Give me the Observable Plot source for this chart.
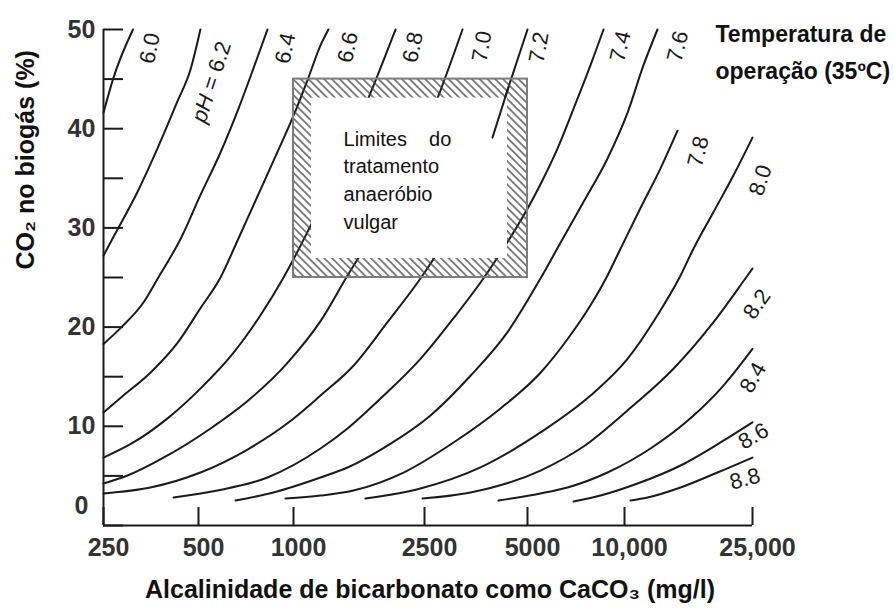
<!DOCTYPE html>
<html><head><meta charset="utf-8">
<script src="https://cdn.jsdelivr.net/npm/d3@7"></script>
<script src="https://cdn.jsdelivr.net/npm/@observablehq/plot@0.6"></script>
<style>html,body{margin:0;padding:0;background:#fff;} svg{display:block;}</style>
</head><body><div id="chart"></div>
<script>
// ---- axis ticks ----
const xTickValues = [250, 500, 1000, 2500, 5000, 10000, 25000];
const xTickLabels = ["250", "500", "1000", "2500", "5000", "10,000", "25,000"];
const yTickValues = [0, 5, 10, 15, 20, 25, 30, 35, 40, 45, 50];
const yLabelValues = [10, 20, 30, 40, 50];

// ---- pH curves: alkalinity (mg/l CaCO3) and CO2 (%) ----
const phLevels = ["6.0", "6.2", "6.4", "6.6", "6.8", "7.0", "7.2", "7.4", "7.6", "7.8", "8.0", "8.2", "8.4", "8.6", "8.8"];
const alk_6_0 = [250, 268, 310];
const co2_6_0 = [41.6, 45.0, 50];
const alk_6_2 = [250, 270, 320, 374, 428, 472, 507];
const co2_6_2 = [27.2, 29.2, 33.6, 38.3, 42.7, 46.0, 50];
const alk_6_4 = [250, 283, 335, 373, 439, 507, 587, 669, 747, 827];
const co2_6_4 = [18.3, 19.9, 22.5, 25.0, 28.9, 33.3, 37.6, 42.0, 46.1, 50];
const alk_6_6 = [250, 289, 352, 429, 507, 587, 660, 747, 871, 1014, 1103, 1208, 1277];
const co2_6_6 = [11.4, 13.1, 15.4, 18.4, 21.9, 25.0, 28.5, 32.3, 37.0, 41.8, 44.9, 48.4, 50];
const alk_6_8 = [250, 311, 399, 507, 645, 786, 930, 1103, 1208, 1714, 2042];
const co2_6_8 = [6.85, 8.37, 10.8, 13.8, 17.4, 21.2, 25.0, 29.6, 32.3, 43.6, 50];
const alk_7_0 = [250, 298, 399, 546, 731, 957, 1208, 1459, 1631, 2738, 3229];
const co2_7_0 = [4.23, 5.04, 7.06, 9.78, 12.8, 16.4, 20.6, 25.2, 27.8, 43.2, 50];
const alk_7_2 = [250, 352, 507, 715, 957, 1208, 1521, 1930, 2466, 2728, 3950, 4400, 5000];
const co2_7_2 = [3.23, 3.83, 5.34, 7.66, 10.3, 13.1, 16.1, 20.5, 25.2, 27.5, 39.1, 44.2, 50];
const alk_7_4 = [417, 574, 827, 1208, 1459, 1838, 2431, 3040, 3768, 5487, 6195, 6946, 7844, 8608];
const co2_7_4 = [2.82, 3.53, 4.84, 7.76, 9.78, 12.8, 16.8, 20.9, 25.2, 34.4, 38.0, 42.0, 46.4, 50];
const alk_7_6 = [655, 864, 1208, 1459, 1930, 2603, 3407, 4371, 5487, 6328, 7459, 8857, 10217, 11458, 12663];
const co2_7_6 = [2.52, 3.33, 4.84, 5.85, 8.06, 11.1, 15.1, 19.5, 24.9, 28.5, 32.6, 37.0, 41.6, 46.4, 50];
const alk_7_8 = [943, 1208, 1521, 2159, 3040, 4170, 5487, 6799, 7844, 8792, 9718, 11214, 12941, 14618];
const co2_7_8 = [2.72, 3.02, 3.53, 5.34, 8.37, 11.8, 15.4, 19.2, 22.2, 25.0, 27.9, 32.0, 36.0, 39.8];
const alk_8_0 = [1654, 2431, 3644, 5487, 7844, 10217, 12663, 14826, 16383, 18912, 21822, 25000];
const co2_8_0 = [2.72, 3.73, 5.85, 9.38, 13.1, 16.8, 21.2, 25.0, 27.9, 31.6, 35.3, 39.1];
const alk_8_2 = [2466, 3407, 5487, 7459, 10217, 14196, 18912, 24120, 25000];
const co2_8_2 = [2.72, 3.33, 5.54, 7.96, 11.6, 15.8, 20.5, 25.2, 25.9];
const alk_8_4 = [4113, 5487, 6654, 8857, 12049, 16036, 20309, 25000];
const co2_8_4 = [2.52, 3.23, 3.83, 5.34, 7.76, 10.8, 14.1, 17.8];
const alk_8_6 = [6946, 8424, 10977, 14935, 19882, 25000];
const co2_8_6 = [2.42, 3.02, 4.23, 6.05, 8.37, 10.4];
const alk_8_8 = [10439, 11789, 14935, 19459, 25000];
const co2_8_8 = [2.52, 2.82, 3.83, 5.34, 6.85];

// ---- curve labels ----
const curveLabelText = ["6.0", "pH = 6.2", "6.4", "6.6", "6.8", "7.0", "7.2", "7.4", "7.6", "7.8", "8.0", "8.2", "8.4", "8.6", "8.8"];
const curveLabelAlk = [351, 550, 943, 1464, 2307, 3681, 5428, 9718, 14660, 16982, 26470, 25820, 25090, 25180, 23700];
const curveLabelCO2 = [48.1, 44.7, 48.1, 48.2, 48.2, 48.3, 48.2, 48.3, 48.3, 37.7, 34.8, 22.3, 14.9, 9.0, 4.69];

// ---- operating box ----
const boxAlk = [1000, 5000];
const boxCO2 = [25, 45];
const boxText = "Limites\u00a0\u00a0\u00a0 do\ntratamento\nanaeróbio\nvulgar";
const boxTextAlk = 1419;
const boxTextCO2 = 35;

// ---- texts ----
const xTitle = "Alcalinidade de bicarbonato como CaCO\u2083 (mg/l)";
const yTitle = "CO\u2082 no biogás (%)";
const tempNote = "Temperatura de\noperação (35ºC)";

// ---- build tables ----
const alkSeries = [alk_6_0, alk_6_2, alk_6_4, alk_6_6, alk_6_8, alk_7_0, alk_7_2, alk_7_4, alk_7_6, alk_7_8, alk_8_0, alk_8_2, alk_8_4, alk_8_6, alk_8_8];
const co2Series = [co2_6_0, co2_6_2, co2_6_4, co2_6_6, co2_6_8, co2_7_0, co2_7_2, co2_7_4, co2_7_6, co2_7_8, co2_8_0, co2_8_2, co2_8_4, co2_8_6, co2_8_8];
const curveRows = phLevels.flatMap((ph, i) => alkSeries[i].map((a, j) => ({ph, alk: a, co2: co2Series[i][j]})));
// part of pH 7.2 that is drawn over the white box interior
const overlayRows = curveRows.filter(d => d.ph === "7.2" && d.co2 >= 39 && d.co2 <= 45);
const labelAngles = [-78, -72, -78, -78, -78, -80, -80, -76, -76, -76, -72, -55, -60, -30, -15];
const labelRows = curveLabelText.map((t, i) => ({text: t, alk: curveLabelAlk[i], co2: curveLabelCO2[i], angle: labelAngles[i]}));
const box = {x1: boxAlk[0], x2: boxAlk[1], y1: boxCO2[0], y2: boxCO2[1]};

const FONT = "'Liberation Sans', Arial, Helvetica, sans-serif";
const INK = "#1b1b1b";

const chart = Plot.plot({
  width: 894, height: 612,
  marginLeft: 103, marginRight: 142, marginTop: 29, marginBottom: 87,
  style: {fontFamily: FONT, background: "#fff", overflow: "visible"},
  x: {type: "log", domain: xTickValues, range: [103, 198, 293, 424, 527, 624, 752]},
  y: {domain: [0, 50]},
  marks: [
    Plot.line(curveRows, {x: "alk", y: "co2", z: "ph", curve: "monotone-x", stroke: INK, strokeWidth: 2}),
    Plot.rect([box], {x1: "x1", x2: "x2", y1: "y1", y2: "y2", fill: "url(#hatch)", stroke: "#7d7d7d", strokeWidth: 2}),
    Plot.rect([box], {x1: "x1", x2: "x2", y1: "y1", y2: "y2", insetLeft: 18, insetRight: 20, insetTop: 19, insetBottom: 19, fill: "#fff"}),
    Plot.line(overlayRows, {x: "alk", y: "co2", stroke: INK, strokeWidth: 2}),
    Plot.text([boxText], {x: boxTextAlk, y: boxTextCO2, text: d => d, textAnchor: "start", lineAnchor: "middle", lineHeight: 1.39, fontSize: 20, fill: "#111"}),
    Plot.ruleX([250], {stroke: INK, strokeWidth: 2}),
    Plot.ruleY([0], {stroke: INK, strokeWidth: 2}),
    Plot.tickX(xTickValues, {insetTop: 478, stroke: INK, strokeWidth: 2}),
    Plot.tickY(yTickValues, {insetRight: 629, stroke: INK, strokeWidth: 2}),
    Plot.axisX({ticks: xTickValues, tickSize: 0, tickPadding: 13, dx: 5, label: null,
      tickFormat: d => xTickLabels[xTickValues.indexOf(d)], fontSize: 25, fontWeight: "bold", fill: "#333"}),
    Plot.axisY({ticks: yLabelValues, tickSize: 0, tickPadding: 22, textAnchor: "middle", label: null,
      tickFormat: d => String(d), fontSize: 25, fontWeight: "bold", fill: "#333"}),
    Plot.text(["0"], {frameAnchor: "bottom-left", text: d => d, dx: -22, dy: -12, textAnchor: "middle", fontSize: 25, fontWeight: "bold", fill: "#333"}),
    Plot.text(labelRows, {x: "alk", y: "co2", text: "text", rotate: "angle", fontSize: 22, fill: INK}),
    Plot.text([yTitle], {frameAnchor: "left", text: d => d, rotate: -90, dx: -78, dy: -8, fontSize: 25, fontWeight: "bold", fill: "#111"}),
    Plot.text([xTitle], {frameAnchor: "bottom", text: d => d, dx: 2, dy: 72, fontSize: 25, fontWeight: "bold", fill: "#111"}),
    Plot.text([tempNote], {frameAnchor: "top-right", text: d => d, textAnchor: "start", lineAnchor: "top", dx: -37, dy: -14, lineHeight: 1.62, fontSize: 23, fontWeight: "bold", fill: "#111"})
  ]
});

// hatch pattern for the box band
const svgSel = d3.select(chart);
const defs = svgSel.insert("defs", ":first-child");
const pat = defs.append("pattern").attr("id", "hatch").attr("patternUnits", "userSpaceOnUse")
  .attr("width", 5.5).attr("height", 5.5).attr("patternTransform", "rotate(-45)");
pat.append("line").attr("x1", 2.75).attr("y1", -1).attr("x2", 2.75).attr("y2", 6.5).attr("stroke", "#444").attr("stroke-width", 1.3);

// italic "pH"
svgSel.selectAll("text").filter(function() { return this.textContent === "pH = 6.2"; }).each(function() {
  const t = d3.select(this);
  t.text(null);
  t.append("tspan").attr("font-style", "italic").text("pH");
  t.append("tspan").text(" = 6.2");
});

document.getElementById("chart").appendChild(chart);
</script>
</body></html>
